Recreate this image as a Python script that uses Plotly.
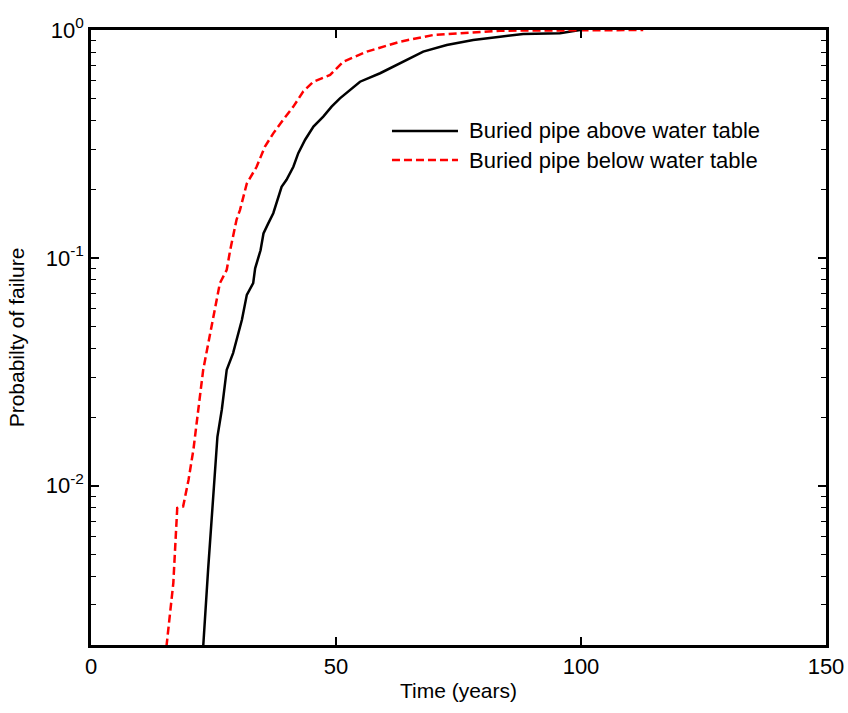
import plotly.graph_objects as go

# Data
above_t = [22.9, 23.9, 25.8, 26.7, 27.7, 29.0, 30.8, 31.8, 33.1, 33.5, 34.6, 35.2, 36.2, 37.2,
           38.9, 39.9, 41.3, 42.3, 43.7, 45.4, 47.4, 49.1, 50.8, 54.9, 59.0, 63.1, 67.8, 72.6,
           78.0, 83.5, 88.2, 95.7, 99.8]
above_p = [0.00197, 0.00428, 0.0164, 0.0216, 0.0323, 0.0382, 0.0535, 0.0688, 0.0774, 0.090, 0.108,
           0.128, 0.142, 0.157, 0.205, 0.220, 0.251, 0.288, 0.330, 0.377, 0.417, 0.461, 0.501,
           0.593, 0.646, 0.714, 0.804, 0.859, 0.904, 0.935, 0.960, 0.967, 1.0]

below_t = [15.4, 16.8, 17.6, 18.8, 19.9, 20.9, 21.9, 22.9, 24.6, 26.3, 27.7, 28.4, 29.7, 30.4,
           31.8, 33.8, 35.5, 37.2, 39.2, 41.3, 43.3, 45.4, 48.8, 51.5, 56.3, 63.1, 69.9, 76.7,
           83.5, 112.7]
below_p = [0.00197, 0.00374, 0.00798, 0.0081, 0.0106, 0.0144, 0.0216, 0.0323, 0.050, 0.0774,
           0.0886, 0.108, 0.147, 0.162, 0.212, 0.251, 0.308, 0.352, 0.403, 0.461, 0.537, 0.593,
           0.635, 0.726, 0.804, 0.889, 0.951, 0.973, 0.993, 1.0]

series_names = ["Buried pipe above water table", "Buried pipe below water table"]
x_ticks = [0, 50, 100, 150]
y_ticks = [0.01, 0.1, 1]
y_ticktext = ["10<sup>-2</sup>", "10<sup>-1</sup>", "10<sup>0</sup>"]
y_minor = [m * d for d in (0.001, 0.01, 0.1) for m in range(2, 10)]

FONT = "Liberation Sans, Arial, sans-serif"

fig = go.Figure()
fig.add_trace(go.Scatter(x=above_t, y=above_p, mode="lines", name=series_names[0],
                         line=dict(color="black", width=2.5), showlegend=False))
fig.add_trace(go.Scatter(x=below_t, y=below_p, mode="lines", name=series_names[1],
                         line=dict(color="red", width=2.5, dash="8px,4px"), showlegend=False))

# Custom legend (long line samples as in reference)
leg_x0, leg_x1, leg_tx = 0.4095, 0.4993, 0.5116
leg_y = [0.8358, 0.7886]
styles = [dict(color="black", width=2.5), dict(color="red", width=2.5, dash="8px,4px")]
for yy, st, nm in zip(leg_y, styles, series_names):
    fig.add_shape(type="line", xref="paper", yref="paper", x0=leg_x0, x1=leg_x1, y0=yy, y1=yy,
                  line=st)
    fig.add_annotation(xref="paper", yref="paper", x=leg_tx, y=yy, text=nm, showarrow=False,
                       xanchor="left", yanchor="middle", font=dict(size=22, color="black", family=FONT))

axis_common = dict(showline=True, linecolor="black", linewidth=2.5, mirror="ticks",
                   ticks="inside", ticklen=8, tickwidth=1.5, tickcolor="black",
                   showgrid=False, zeroline=False, automargin=False,
                   tickfont=dict(size=22, color="black", family=FONT))

fig.update_xaxes(range=[0, 150], tickmode="array", tickvals=x_ticks,
                 title=dict(text="Time (years)", font=dict(size=21, color="black", family=FONT), standoff=6),
                 **axis_common)
fig.update_yaxes(type="log", range=[-2.699, 0], tickmode="array", tickvals=y_ticks, ticktext=y_ticktext,
                 minor=dict(tickmode="array", tickvals=y_minor, ticks="inside", ticklen=5,
                            tickwidth=1.2, tickcolor="black"),
                 title=dict(text="Probabilty of failure", font=dict(size=21, color="black", family=FONT), standoff=16),
                 **axis_common)

fig.update_layout(width=848, height=713, plot_bgcolor="white", paper_bgcolor="white",
                  margin=dict(l=91, r=22, t=30, b=68), font=dict(family=FONT, color="black"))

fig.write_html("out.html", config={"displayModeBar": False},
               post_script="document.body.style.margin='0px';document.body.style.overflow='hidden';")
